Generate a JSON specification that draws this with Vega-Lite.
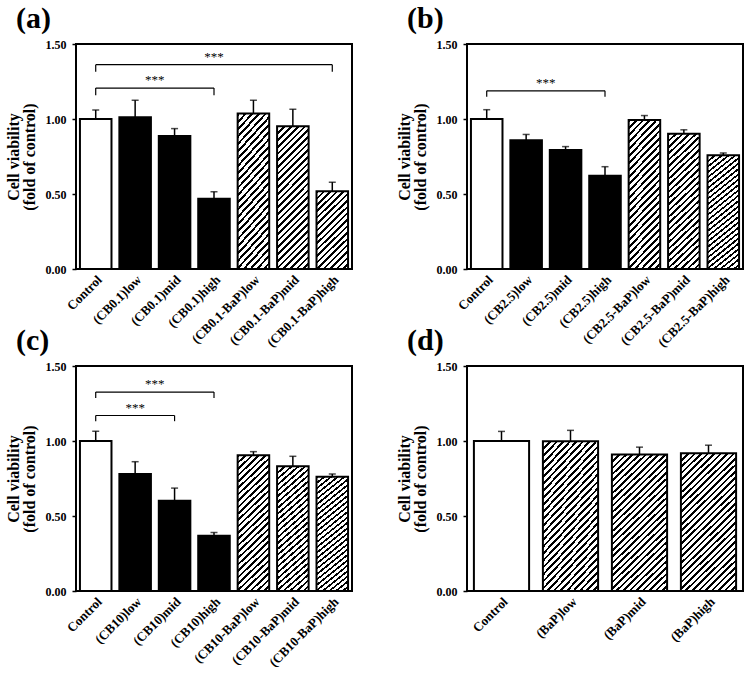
{
"$schema":"https://vega.github.io/schema/vega-lite/v6.json",
"padding":{"left":4,"top":3,"right":0,"bottom":0},
"bounds":"flush",
"columns":2,
"spacing":{"row":97,"column":115},
"datasets":{
"a":[{"g":"Control","t":"ctrl","v":1.0,"hi":1.06},{"g":"(CB0.1)low","t":"cb","v":1.012,"hi":1.125},{"g":"(CB0.1)mid","t":"cb","v":0.887,"hi":0.936},{"g":"(CB0.1)high","t":"cb","v":0.468,"hi":0.515},{"g":"(CB0.1-BaP)low","t":"bap","v":1.036,"hi":1.125},{"g":"(CB0.1-BaP)mid","t":"bap","v":0.952,"hi":1.065},{"g":"(CB0.1-BaP)high","t":"bap","v":0.519,"hi":0.579}],
"a_br":[{"from":"Control","to":"(CB0.1-BaP)high","mid":"(CB0.1)high","y":1.362,"ylo":1.315},{"from":"Control","to":"(CB0.1)high","mid":"(CB0.1)low","y":1.206,"ylo":1.159}],
"b":[{"g":"Control","t":"ctrl","v":1.0,"hi":1.062},{"g":"(CB2.5)low","t":"cb","v":0.858,"hi":0.897},{"g":"(CB2.5)mid","t":"cb","v":0.794,"hi":0.816},{"g":"(CB2.5)high","t":"cb","v":0.622,"hi":0.682},{"g":"(CB2.5-BaP)low","t":"bap","v":0.994,"hi":1.023},{"g":"(CB2.5-BaP)mid","t":"bap","v":0.902,"hi":0.928},{"g":"(CB2.5-BaP)high","t":"bap","v":0.759,"hi":0.774}],
"b_br":[{"from":"Control","to":"(CB2.5)high","mid":"(CB2.5)low","y":1.188,"ylo":1.148}],
"c":[{"g":"Control","t":"ctrl","v":1.0,"hi":1.065},{"g":"(CB10)low","t":"cb","v":0.78,"hi":0.862},{"g":"(CB10)mid","t":"cb","v":0.602,"hi":0.686},{"g":"(CB10)high","t":"cb","v":0.368,"hi":0.39},{"g":"(CB10-BaP)low","t":"bap","v":0.905,"hi":0.929},{"g":"(CB10-BaP)mid","t":"bap","v":0.831,"hi":0.898},{"g":"(CB10-BaP)high","t":"bap","v":0.762,"hi":0.78}],
"c_br":[{"from":"Control","to":"(CB10)high","mid":"(CB10)low","y":1.326,"ylo":1.286},{"from":"Control","to":"(CB10)mid","mid":"(CB10)low","y":1.17,"ylo":1.132}],
"d":[{"g":"Control","t":"ctrl","v":1.0,"hi":1.064},{"g":"(BaP)low","t":"bap","v":0.999,"hi":1.071},{"g":"(BaP)mid","t":"bap","v":0.91,"hi":0.959},{"g":"(BaP)high","t":"bap","v":0.919,"hi":0.972}]
},
"concat":[
{"width":276,"height":225,"title":"(a)","data":{"name":"a"},
"encoding":{"x":{"field":"g","type":"nominal","sort":null,"scale":{"domain":["Control","(CB0.1)low","(CB0.1)mid","(CB0.1)high","(CB0.1-BaP)low","(CB0.1-BaP)mid","(CB0.1-BaP)high"],"paddingInner":0.2,"paddingOuter":0.1},"axis":{"title":null}},
"y":{"field":"v","type":"quantitative","scale":{"domain":[0,1.5]},"axis":{"values":[0,0.5,1,1.5],"title":["Cell viability","(fold of control)"],"titleFontSize":16,"titleLineHeight":16}}},
"layer":[
{"transform":[{"filter":"datum.t != 'bap'"}],"mark":{"type":"bar","stroke":"black","strokeWidth":2},"encoding":{"fill":{"field":"t","type":"nominal","scale":{"domain":["ctrl","cb"],"range":["white","black"]},"legend":null}}},
{"transform":[{"filter":"datum.t == 'bap' && datum.v >= 0.7"}],"mark":{"type":"bar","stroke":"black","strokeWidth":2}},
{"transform":[{"filter":"datum.t == 'bap' && datum.v < 0.7"}],"mark":{"type":"bar","stroke":"black","strokeWidth":2,"fill":{"gradient":"linear","x1":0,"y1":0,"x2":0.48,"y2":1.207,"stops":[
{"offset":0,"color":"#000"},{"offset":0.024,"color":"#000"},{"offset":0.024,"color":"#fff"},{"offset":0.059,"color":"#fff"},
{"offset":0.059,"color":"#000"},{"offset":0.082,"color":"#000"},{"offset":0.082,"color":"#fff"},{"offset":0.118,"color":"#fff"},
{"offset":0.118,"color":"#000"},{"offset":0.141,"color":"#000"},{"offset":0.141,"color":"#fff"},{"offset":0.176,"color":"#fff"},
{"offset":0.176,"color":"#000"},{"offset":0.2,"color":"#000"},{"offset":0.2,"color":"#fff"},{"offset":0.235,"color":"#fff"},
{"offset":0.235,"color":"#000"},{"offset":0.259,"color":"#000"},{"offset":0.259,"color":"#fff"},{"offset":0.294,"color":"#fff"},
{"offset":0.294,"color":"#000"},{"offset":0.318,"color":"#000"},{"offset":0.318,"color":"#fff"},{"offset":0.353,"color":"#fff"},
{"offset":0.353,"color":"#000"},{"offset":0.376,"color":"#000"},{"offset":0.376,"color":"#fff"},{"offset":0.412,"color":"#fff"},
{"offset":0.412,"color":"#000"},{"offset":0.435,"color":"#000"},{"offset":0.435,"color":"#fff"},{"offset":0.471,"color":"#fff"},
{"offset":0.471,"color":"#000"},{"offset":0.494,"color":"#000"},{"offset":0.494,"color":"#fff"},{"offset":0.529,"color":"#fff"},
{"offset":0.529,"color":"#000"},{"offset":0.553,"color":"#000"},{"offset":0.553,"color":"#fff"},{"offset":0.588,"color":"#fff"},
{"offset":0.588,"color":"#000"},{"offset":0.612,"color":"#000"},{"offset":0.612,"color":"#fff"},{"offset":0.647,"color":"#fff"},
{"offset":0.647,"color":"#000"},{"offset":0.671,"color":"#000"},{"offset":0.671,"color":"#fff"},{"offset":0.706,"color":"#fff"},
{"offset":0.706,"color":"#000"},{"offset":0.729,"color":"#000"},{"offset":0.729,"color":"#fff"},{"offset":0.765,"color":"#fff"},
{"offset":0.765,"color":"#000"},{"offset":0.788,"color":"#000"},{"offset":0.788,"color":"#fff"},{"offset":0.824,"color":"#fff"},
{"offset":0.824,"color":"#000"},{"offset":0.847,"color":"#000"},{"offset":0.847,"color":"#fff"},{"offset":0.882,"color":"#fff"},
{"offset":0.882,"color":"#000"},{"offset":0.906,"color":"#000"},{"offset":0.906,"color":"#fff"},{"offset":0.941,"color":"#fff"},
{"offset":0.941,"color":"#000"},{"offset":0.965,"color":"#000"},{"offset":0.965,"color":"#fff"},{"offset":1,"color":"#fff"}]}}},
{"mark":{"type":"rule","color":"black","strokeWidth":1.5},"encoding":{"y2":{"field":"hi"}}},
{"mark":{"type":"tick","color":"black","size":7,"thickness":1.5},"encoding":{"y":{"field":"hi","type":"quantitative"}}},
{"data":{"name":"a_br"},"mark":{"type":"rule","color":"black","strokeWidth":1.2},"encoding":{"x":{"field":"from","type":"nominal"},"x2":{"field":"to"},"y":{"field":"y","type":"quantitative"}}},
{"data":{"name":"a_br"},"mark":{"type":"rule","color":"black","strokeWidth":1.2},"encoding":{"x":{"field":"from","type":"nominal"},"y":{"field":"y","type":"quantitative"},"y2":{"field":"ylo"}}},
{"data":{"name":"a_br"},"mark":{"type":"rule","color":"black","strokeWidth":1.2},"encoding":{"x":{"field":"to","type":"nominal"},"y":{"field":"y","type":"quantitative"},"y2":{"field":"ylo"}}},
{"data":{"name":"a_br"},"transform":[{"filter":"datum.to == '(CB0.1-BaP)high'"}],"mark":{"type":"text","text":"***","fontSize":13,"color":"black","fill":"black","baseline":"middle","dy":-8},"encoding":{"x":{"field":"mid","type":"nominal"},"y":{"field":"y","type":"quantitative"}}},
{"data":{"name":"a_br"},"transform":[{"filter":"datum.to == '(CB0.1)high'"}],"mark":{"type":"text","text":"***","fontSize":13,"color":"black","fill":"black","baseline":"middle","dy":-8},"encoding":{"x":{"field":"mid","type":"nominal","bandPosition":1.125},"y":{"field":"y","type":"quantitative"}}}
]},
{"width":276,"height":225,"title":"(b)","data":{"name":"b"},
"encoding":{"x":{"field":"g","type":"nominal","sort":null,"scale":{"domain":["Control","(CB2.5)low","(CB2.5)mid","(CB2.5)high","(CB2.5-BaP)low","(CB2.5-BaP)mid","(CB2.5-BaP)high"],"paddingInner":0.2,"paddingOuter":0.1},"axis":{"title":null}},
"y":{"field":"v","type":"quantitative","scale":{"domain":[0,1.5]},"axis":{"values":[0,0.5,1,1.5],"title":["Cell viability","(fold of control)"],"titleFontSize":16,"titleLineHeight":16}}},
"layer":[
{"transform":[{"filter":"datum.t != 'bap'"}],"mark":{"type":"bar","stroke":"black","strokeWidth":2},"encoding":{"fill":{"field":"t","type":"nominal","scale":{"domain":["ctrl","cb"],"range":["white","black"]},"legend":null}}},
{"transform":[{"filter":"datum.t == 'bap'"}],"mark":{"type":"bar","stroke":"black","strokeWidth":2}},
{"mark":{"type":"rule","color":"black","strokeWidth":1.5},"encoding":{"y2":{"field":"hi"}}},
{"mark":{"type":"tick","color":"black","size":7,"thickness":1.5},"encoding":{"y":{"field":"hi","type":"quantitative"}}},
{"data":{"name":"b_br"},"mark":{"type":"rule","color":"black","strokeWidth":1.2},"encoding":{"x":{"field":"from","type":"nominal"},"x2":{"field":"to"},"y":{"field":"y","type":"quantitative"}}},
{"data":{"name":"b_br"},"mark":{"type":"rule","color":"black","strokeWidth":1.2},"encoding":{"x":{"field":"from","type":"nominal"},"y":{"field":"y","type":"quantitative"},"y2":{"field":"ylo"}}},
{"data":{"name":"b_br"},"mark":{"type":"rule","color":"black","strokeWidth":1.2},"encoding":{"x":{"field":"to","type":"nominal"},"y":{"field":"y","type":"quantitative"},"y2":{"field":"ylo"}}},
{"data":{"name":"b_br"},"mark":{"type":"text","text":"***","fontSize":13,"color":"black","fill":"black","baseline":"middle","dy":-8},"encoding":{"x":{"field":"mid","type":"nominal","bandPosition":1.125},"y":{"field":"y","type":"quantitative"}}}
]},
{"width":276,"height":225,"title":"(c)","data":{"name":"c"},
"encoding":{"x":{"field":"g","type":"nominal","sort":null,"scale":{"domain":["Control","(CB10)low","(CB10)mid","(CB10)high","(CB10-BaP)low","(CB10-BaP)mid","(CB10-BaP)high"],"paddingInner":0.2,"paddingOuter":0.1},"axis":{"title":null}},
"y":{"field":"v","type":"quantitative","scale":{"domain":[0,1.5]},"axis":{"values":[0,0.5,1,1.5],"title":["Cell viability","(fold of control)"],"titleFontSize":16,"titleLineHeight":16}}},
"layer":[
{"transform":[{"filter":"datum.t != 'bap'"}],"mark":{"type":"bar","stroke":"black","strokeWidth":2},"encoding":{"fill":{"field":"t","type":"nominal","scale":{"domain":["ctrl","cb"],"range":["white","black"]},"legend":null}}},
{"transform":[{"filter":"datum.t == 'bap'"}],"mark":{"type":"bar","stroke":"black","strokeWidth":2}},
{"mark":{"type":"rule","color":"black","strokeWidth":1.5},"encoding":{"y2":{"field":"hi"}}},
{"mark":{"type":"tick","color":"black","size":7,"thickness":1.5},"encoding":{"y":{"field":"hi","type":"quantitative"}}},
{"data":{"name":"c_br"},"mark":{"type":"rule","color":"black","strokeWidth":1.2},"encoding":{"x":{"field":"from","type":"nominal"},"x2":{"field":"to"},"y":{"field":"y","type":"quantitative"}}},
{"data":{"name":"c_br"},"mark":{"type":"rule","color":"black","strokeWidth":1.2},"encoding":{"x":{"field":"from","type":"nominal"},"y":{"field":"y","type":"quantitative"},"y2":{"field":"ylo"}}},
{"data":{"name":"c_br"},"mark":{"type":"rule","color":"black","strokeWidth":1.2},"encoding":{"x":{"field":"to","type":"nominal"},"y":{"field":"y","type":"quantitative"},"y2":{"field":"ylo"}}},
{"data":{"name":"c_br"},"transform":[{"filter":"datum.to == '(CB10)mid'"}],"mark":{"type":"text","text":"***","fontSize":13,"color":"black","fill":"black","baseline":"middle","dy":-8},"encoding":{"x":{"field":"mid","type":"nominal"},"y":{"field":"y","type":"quantitative"}}},
{"data":{"name":"c_br"},"transform":[{"filter":"datum.to == '(CB10)high'"}],"mark":{"type":"text","text":"***","fontSize":13,"color":"black","fill":"black","baseline":"middle","dy":-8},"encoding":{"x":{"field":"mid","type":"nominal","bandPosition":1.125},"y":{"field":"y","type":"quantitative"}}}
]},
{"width":276,"height":225,"title":"(d)","data":{"name":"d"},
"encoding":{"x":{"field":"g","type":"nominal","sort":null,"scale":{"domain":["Control","(BaP)low","(BaP)mid","(BaP)high"],"paddingInner":0.2,"paddingOuter":0.1},"axis":{"title":null}},
"y":{"field":"v","type":"quantitative","scale":{"domain":[0,1.5]},"axis":{"values":[0,0.5,1,1.5],"title":["Cell viability","(fold of control)"],"titleFontSize":16,"titleLineHeight":16}}},
"layer":[
{"transform":[{"filter":"datum.t != 'bap'"}],"mark":{"type":"bar","stroke":"black","strokeWidth":2},"encoding":{"fill":{"field":"t","type":"nominal","scale":{"domain":["ctrl","cb"],"range":["white","black"]},"legend":null}}},
{"transform":[{"filter":"datum.t == 'bap'"}],"mark":{"type":"bar","stroke":"black","strokeWidth":2,"fill":{"gradient":"linear","x1":0,"y1":0,"x2":0.474,"y2":1.207,"stops":[
{"offset":0,"color":"#000"},{"offset":0.013,"color":"#000"},{"offset":0.013,"color":"#fff"},{"offset":0.033,"color":"#fff"},
{"offset":0.033,"color":"#000"},{"offset":0.047,"color":"#000"},{"offset":0.047,"color":"#fff"},{"offset":0.067,"color":"#fff"},
{"offset":0.067,"color":"#000"},{"offset":0.08,"color":"#000"},{"offset":0.08,"color":"#fff"},{"offset":0.1,"color":"#fff"},
{"offset":0.1,"color":"#000"},{"offset":0.113,"color":"#000"},{"offset":0.113,"color":"#fff"},{"offset":0.133,"color":"#fff"},
{"offset":0.133,"color":"#000"},{"offset":0.147,"color":"#000"},{"offset":0.147,"color":"#fff"},{"offset":0.167,"color":"#fff"},
{"offset":0.167,"color":"#000"},{"offset":0.18,"color":"#000"},{"offset":0.18,"color":"#fff"},{"offset":0.2,"color":"#fff"},
{"offset":0.2,"color":"#000"},{"offset":0.213,"color":"#000"},{"offset":0.213,"color":"#fff"},{"offset":0.233,"color":"#fff"},
{"offset":0.233,"color":"#000"},{"offset":0.247,"color":"#000"},{"offset":0.247,"color":"#fff"},{"offset":0.267,"color":"#fff"},
{"offset":0.267,"color":"#000"},{"offset":0.28,"color":"#000"},{"offset":0.28,"color":"#fff"},{"offset":0.3,"color":"#fff"},
{"offset":0.3,"color":"#000"},{"offset":0.313,"color":"#000"},{"offset":0.313,"color":"#fff"},{"offset":0.333,"color":"#fff"},
{"offset":0.333,"color":"#000"},{"offset":0.347,"color":"#000"},{"offset":0.347,"color":"#fff"},{"offset":0.367,"color":"#fff"},
{"offset":0.367,"color":"#000"},{"offset":0.38,"color":"#000"},{"offset":0.38,"color":"#fff"},{"offset":0.4,"color":"#fff"},
{"offset":0.4,"color":"#000"},{"offset":0.413,"color":"#000"},{"offset":0.413,"color":"#fff"},{"offset":0.433,"color":"#fff"},
{"offset":0.433,"color":"#000"},{"offset":0.447,"color":"#000"},{"offset":0.447,"color":"#fff"},{"offset":0.467,"color":"#fff"},
{"offset":0.467,"color":"#000"},{"offset":0.48,"color":"#000"},{"offset":0.48,"color":"#fff"},{"offset":0.5,"color":"#fff"},
{"offset":0.5,"color":"#000"},{"offset":0.513,"color":"#000"},{"offset":0.513,"color":"#fff"},{"offset":0.533,"color":"#fff"},
{"offset":0.533,"color":"#000"},{"offset":0.547,"color":"#000"},{"offset":0.547,"color":"#fff"},{"offset":0.567,"color":"#fff"},
{"offset":0.567,"color":"#000"},{"offset":0.58,"color":"#000"},{"offset":0.58,"color":"#fff"},{"offset":0.6,"color":"#fff"},
{"offset":0.6,"color":"#000"},{"offset":0.613,"color":"#000"},{"offset":0.613,"color":"#fff"},{"offset":0.633,"color":"#fff"},
{"offset":0.633,"color":"#000"},{"offset":0.647,"color":"#000"},{"offset":0.647,"color":"#fff"},{"offset":0.667,"color":"#fff"},
{"offset":0.667,"color":"#000"},{"offset":0.68,"color":"#000"},{"offset":0.68,"color":"#fff"},{"offset":0.7,"color":"#fff"},
{"offset":0.7,"color":"#000"},{"offset":0.713,"color":"#000"},{"offset":0.713,"color":"#fff"},{"offset":0.733,"color":"#fff"},
{"offset":0.733,"color":"#000"},{"offset":0.747,"color":"#000"},{"offset":0.747,"color":"#fff"},{"offset":0.767,"color":"#fff"},
{"offset":0.767,"color":"#000"},{"offset":0.78,"color":"#000"},{"offset":0.78,"color":"#fff"},{"offset":0.8,"color":"#fff"},
{"offset":0.8,"color":"#000"},{"offset":0.813,"color":"#000"},{"offset":0.813,"color":"#fff"},{"offset":0.833,"color":"#fff"},
{"offset":0.833,"color":"#000"},{"offset":0.847,"color":"#000"},{"offset":0.847,"color":"#fff"},{"offset":0.867,"color":"#fff"},
{"offset":0.867,"color":"#000"},{"offset":0.88,"color":"#000"},{"offset":0.88,"color":"#fff"},{"offset":0.9,"color":"#fff"},
{"offset":0.9,"color":"#000"},{"offset":0.913,"color":"#000"},{"offset":0.913,"color":"#fff"},{"offset":0.933,"color":"#fff"},
{"offset":0.933,"color":"#000"},{"offset":0.947,"color":"#000"},{"offset":0.947,"color":"#fff"},{"offset":0.967,"color":"#fff"},
{"offset":0.967,"color":"#000"},{"offset":0.98,"color":"#000"},{"offset":0.98,"color":"#fff"},{"offset":1,"color":"#fff"}]}}},
{"mark":{"type":"rule","color":"black","strokeWidth":1.5},"encoding":{"y2":{"field":"hi"}}},
{"mark":{"type":"tick","color":"black","size":7,"thickness":1.5},"encoding":{"y":{"field":"hi","type":"quantitative"}}}
]}
],
"config":{
"font":"Liberation Serif",
"view":{"stroke":"black","strokeWidth":2},
"title":{"font":"Liberation Serif","fontSize":30,"fontWeight":"bold","color":"black","anchor":"start","frame":"bounds","offset":4,"dx":11},
"text":{"font":"Liberation Serif"},
"axis":{"labelFont":"Liberation Serif","titleFont":"Liberation Serif"},
"axisX":{"labelAngle":-45,"labelFontSize":13,"labelFontWeight":"bold","labelColor":"black","ticks":false,"domain":false,"labelPadding":4},
"axisY":{"labelFontSize":12,"labelFontWeight":"bold","labelColor":"black","format":".2f","tickColor":"black","tickSize":4,"tickWidth":1.5,"domain":false,"grid":false,"titleFontSize":16,"titleFontWeight":"bold","titleColor":"black","titlePadding":8,"labelPadding":6},
"bar":{"color":{"gradient":"linear","x1":0,"y1":0,"x2":0.258,"y2":1.164,"stops":[
{"offset":0,"color":"#000"},{"offset":0.015,"color":"#000"},{"offset":0.015,"color":"#fff"},{"offset":0.038,"color":"#fff"},
{"offset":0.038,"color":"#000"},{"offset":0.054,"color":"#000"},{"offset":0.054,"color":"#fff"},{"offset":0.077,"color":"#fff"},
{"offset":0.077,"color":"#000"},{"offset":0.092,"color":"#000"},{"offset":0.092,"color":"#fff"},{"offset":0.115,"color":"#fff"},
{"offset":0.115,"color":"#000"},{"offset":0.131,"color":"#000"},{"offset":0.131,"color":"#fff"},{"offset":0.154,"color":"#fff"},
{"offset":0.154,"color":"#000"},{"offset":0.169,"color":"#000"},{"offset":0.169,"color":"#fff"},{"offset":0.192,"color":"#fff"},
{"offset":0.192,"color":"#000"},{"offset":0.208,"color":"#000"},{"offset":0.208,"color":"#fff"},{"offset":0.231,"color":"#fff"},
{"offset":0.231,"color":"#000"},{"offset":0.246,"color":"#000"},{"offset":0.246,"color":"#fff"},{"offset":0.269,"color":"#fff"},
{"offset":0.269,"color":"#000"},{"offset":0.285,"color":"#000"},{"offset":0.285,"color":"#fff"},{"offset":0.308,"color":"#fff"},
{"offset":0.308,"color":"#000"},{"offset":0.323,"color":"#000"},{"offset":0.323,"color":"#fff"},{"offset":0.346,"color":"#fff"},
{"offset":0.346,"color":"#000"},{"offset":0.362,"color":"#000"},{"offset":0.362,"color":"#fff"},{"offset":0.385,"color":"#fff"},
{"offset":0.385,"color":"#000"},{"offset":0.4,"color":"#000"},{"offset":0.4,"color":"#fff"},{"offset":0.423,"color":"#fff"},
{"offset":0.423,"color":"#000"},{"offset":0.438,"color":"#000"},{"offset":0.438,"color":"#fff"},{"offset":0.462,"color":"#fff"},
{"offset":0.462,"color":"#000"},{"offset":0.477,"color":"#000"},{"offset":0.477,"color":"#fff"},{"offset":0.5,"color":"#fff"},
{"offset":0.5,"color":"#000"},{"offset":0.515,"color":"#000"},{"offset":0.515,"color":"#fff"},{"offset":0.538,"color":"#fff"},
{"offset":0.538,"color":"#000"},{"offset":0.554,"color":"#000"},{"offset":0.554,"color":"#fff"},{"offset":0.577,"color":"#fff"},
{"offset":0.577,"color":"#000"},{"offset":0.592,"color":"#000"},{"offset":0.592,"color":"#fff"},{"offset":0.615,"color":"#fff"},
{"offset":0.615,"color":"#000"},{"offset":0.631,"color":"#000"},{"offset":0.631,"color":"#fff"},{"offset":0.654,"color":"#fff"},
{"offset":0.654,"color":"#000"},{"offset":0.669,"color":"#000"},{"offset":0.669,"color":"#fff"},{"offset":0.692,"color":"#fff"},
{"offset":0.692,"color":"#000"},{"offset":0.708,"color":"#000"},{"offset":0.708,"color":"#fff"},{"offset":0.731,"color":"#fff"},
{"offset":0.731,"color":"#000"},{"offset":0.746,"color":"#000"},{"offset":0.746,"color":"#fff"},{"offset":0.769,"color":"#fff"},
{"offset":0.769,"color":"#000"},{"offset":0.785,"color":"#000"},{"offset":0.785,"color":"#fff"},{"offset":0.808,"color":"#fff"},
{"offset":0.808,"color":"#000"},{"offset":0.823,"color":"#000"},{"offset":0.823,"color":"#fff"},{"offset":0.846,"color":"#fff"},
{"offset":0.846,"color":"#000"},{"offset":0.862,"color":"#000"},{"offset":0.862,"color":"#fff"},{"offset":0.885,"color":"#fff"},
{"offset":0.885,"color":"#000"},{"offset":0.9,"color":"#000"},{"offset":0.9,"color":"#fff"},{"offset":0.923,"color":"#fff"},
{"offset":0.923,"color":"#000"},{"offset":0.938,"color":"#000"},{"offset":0.938,"color":"#fff"},{"offset":0.962,"color":"#fff"},
{"offset":0.962,"color":"#000"},{"offset":0.977,"color":"#000"},{"offset":0.977,"color":"#fff"},{"offset":1,"color":"#fff"}]}}
}
}
